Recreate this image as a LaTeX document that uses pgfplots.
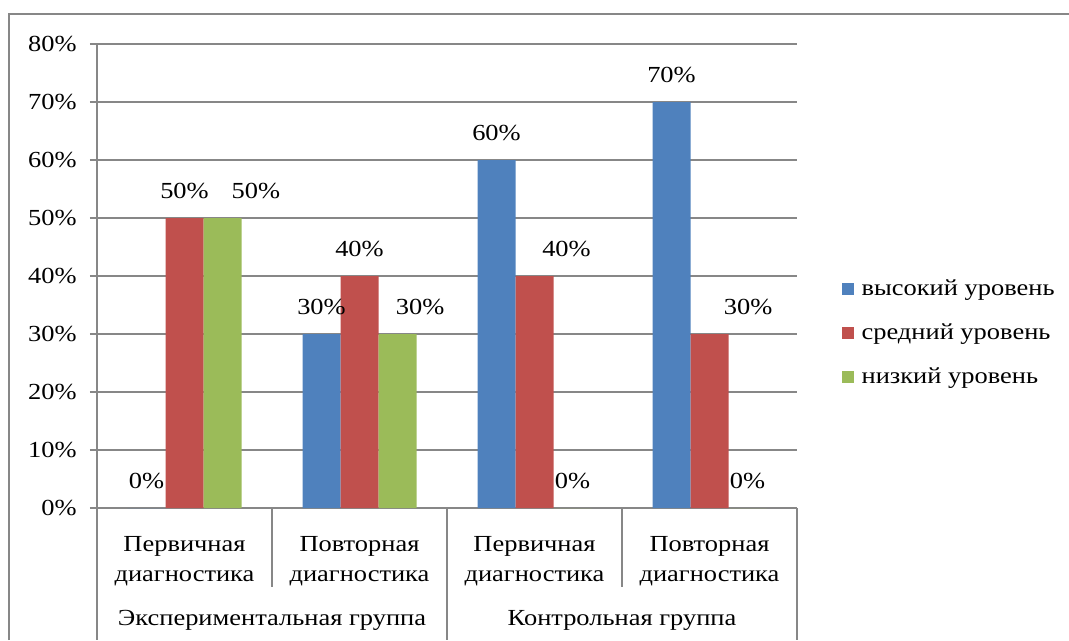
\documentclass[border=0pt]{standalone}
\usepackage{fontspec}
\setmainfont{Liberation Serif}[FakeStretch=1.15]
\usepackage{pgfplots}
\pgfplotsset{compat=1.18}
\usepackage{pgfplotstable}
\definecolor{cblue}{HTML}{4F81BD}
\definecolor{cred}{HTML}{C0504D}
\definecolor{cgreen}{HTML}{9BBB59}
\definecolor{cgrid}{HTML}{878787}

\pgfplotstableread{
x y dx
0 0 0
1 30 0
2 60 0
3 70 0
}\tblue
\pgfplotstableread{
x y dx
0 50 0
1 40 0
2 40 24
3 30 29
}\tred
\pgfplotstableread{
x y dx
0 50 25
1 30 17
2 0 0
3 0 0
}\tgreen

\begin{document}
\fontsize{17.25pt}{22.5pt}\selectfont
\begin{tikzpicture}
\path[use as bounding box] (0,0) rectangle (801.75pt,480pt);
\draw[cgrid, line width=1.9pt] (6.75pt,0) -- (6.75pt,469.5pt) -- (801.75pt,469.5pt);
\begin{axis}[
  at={(72.75pt,99pt)}, anchor=south west,
  scale only axis, width=525pt, height=348pt,
  xmin=-0.5, xmax=3.5, ymin=0, ymax=80,
  ytick={0,10,20,30,40,50,60,70,80},
  yticklabels={0\%,10\%,20\%,30\%,40\%,50\%,60\%,70\%,80\%},
  xtick={0,1,2,3},
  xticklabels={{Первичная\\диагностика},{Повторная\\диагностика},{Первичная\\диагностика},{Повторная\\диагностика}},
  xticklabel style={align=center, anchor=north, inner sep=0pt, yshift=-15.5pt},
  yticklabel style={anchor=east, inner sep=0pt, xshift=-9.75pt},
  axis x line*=bottom, axis y line*=left,
  axis line style={cgrid, line width=1.5pt},
  ymajorgrids, grid style={cgrid, line width=1.5pt},
  tick style={cgrid, line width=1.5pt},
  x tick style={draw=none},
  tick align=outside, major tick length=5.25pt,
  ybar=0pt, bar width=28.5pt,
  clip=false,
  visualization depends on={\thisrow{dx} \as \dx},
  nodes near coords={\pgfmathprintnumber[assume math mode=true]{\pgfplotspointmeta}\%},
  every node near coord/.append style={anchor=base, inner sep=0pt, yshift=14.5pt, xshift=\dx, text=black},
  legend style={at={(1.0643,0.377)}, anchor=west, draw=none, fill=none, inner sep=0pt,
    row sep=18.5pt, column sep=5.5pt, nodes={inner sep=0pt, anchor=west}},
  legend image code/.code={\fill[#1] (0pt,-4.5pt) rectangle (9pt,4.5pt);},
]
\addplot[fill=cblue, draw=none] table[x=x,y=y] {\tblue};
\addplot[fill=cred, draw=none] table[x=x,y=y] {\tred};
\addplot[fill=cgreen, draw=none] table[x=x,y=y] {\tgreen};
\legend{высокий уровень, средний уровень, низкий уровень}
\draw[cgrid, line width=1.5pt] (axis cs:0.5,0) -- ++(0pt,-59.25pt);
\draw[cgrid, line width=1.5pt] (axis cs:2.5,0) -- ++(0pt,-59.25pt);
\draw[cgrid, line width=1.5pt] (axis cs:-0.5,0) -- ++(0pt,-99pt);
\draw[cgrid, line width=1.5pt] (axis cs:1.5,0) -- ++(0pt,-99pt);
\draw[cgrid, line width=1.5pt] (axis cs:3.5,0) -- ++(0pt,-99pt);
\node[anchor=base, yshift=-87.75pt] at (axis cs:0.5,0) {Экспериментальная группа};
\node[anchor=base, yshift=-87.75pt] at (axis cs:2.5,0) {Контрольная группа};
\end{axis}
\end{tikzpicture}
\end{document}
